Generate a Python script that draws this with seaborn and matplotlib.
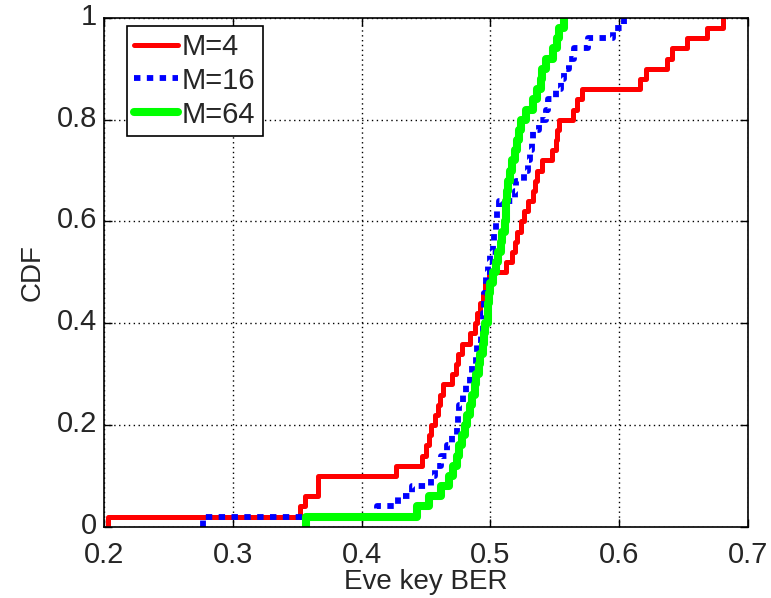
import numpy as np
import pandas as pd
import matplotlib
matplotlib.use("Agg")
import matplotlib.pyplot as plt
import matplotlib.transforms as mtransforms
import seaborn as sns

# Eve's key bit error rate samples for each modulation order
m4_ber = [0.203, 0.352, 0.356, 0.366, 0.366, 0.427, 0.447, 0.450, 0.452, 0.454,
          0.457, 0.459, 0.461, 0.463, 0.470, 0.473, 0.475, 0.478, 0.484, 0.488,
          0.490, 0.492, 0.494, 0.496, 0.499, 0.512, 0.517, 0.519, 0.521, 0.524,
          0.526, 0.529, 0.533, 0.535, 0.536, 0.540, 0.548, 0.551, 0.552, 0.553,
          0.564, 0.567, 0.571, 0.616, 0.621, 0.637, 0.641, 0.653, 0.668, 0.681]
m16_ber = [0.277, 0.412, 0.428, 0.439, 0.454, 0.457, 0.462, 0.466, 0.470, 0.474,
           0.475, 0.476, 0.479, 0.481, 0.484, 0.486, 0.489, 0.490, 0.493, 0.494,
           0.494, 0.495, 0.495, 0.497, 0.497, 0.498, 0.500, 0.502, 0.503, 0.504,
           0.505, 0.507, 0.519, 0.520, 0.526, 0.529, 0.531, 0.532, 0.533, 0.538,
           0.543, 0.545, 0.551, 0.555, 0.557, 0.561, 0.565, 0.576, 0.595, 0.604]
m64_ber = [0.357, 0.443, 0.452, 0.462, 0.468, 0.471, 0.474, 0.476, 0.478, 0.480,
           0.482, 0.484, 0.486, 0.488, 0.489, 0.491, 0.492, 0.494, 0.495, 0.496,
           0.498, 0.498, 0.499, 0.500, 0.502, 0.504, 0.506, 0.508, 0.509, 0.511,
           0.512, 0.512, 0.513, 0.514, 0.515, 0.517, 0.519, 0.521, 0.522, 0.524,
           0.528, 0.533, 0.536, 0.539, 0.540, 0.543, 0.549, 0.552, 0.553, 0.557]

series_labels = ["M=4", "M=16", "M=64"]
x_ticks = [0.2, 0.3, 0.4, 0.5, 0.6, 0.7]
x_tick_labels = ["0.2", "0.3", "0.4", "0.5", "0.6", "0.7"]
y_ticks = [0, 0.2, 0.4, 0.6, 0.8, 1.0]
y_tick_labels = ["0", "0.2", "0.4", "0.6", "0.8", "1"]

sns.set_style("white")
plt.rcParams["font.family"] = ["Liberation Sans", "DejaVu Sans"]

fig = plt.figure(figsize=(7.71, 5.98), dpi=100)
ax = fig.add_axes([0.135, 0.119, 0.835, 0.851])

styles = [
    dict(color="#ff0000", lw=3.6, linestyle="-"),
    dict(color="#0000ff", lw=4.2, linestyle=(0, (1.1, 1.1))),
    dict(color="#00ff00", lw=5.8, linestyle="-"),
]
for data, label, st in zip([m4_ber, m16_ber, m64_ber], series_labels, styles):
    sns.ecdfplot(x=data, ax=ax, label=label, **st)

# start each step curve with a vertical rise at its first sample
for line in ax.get_lines():
    xd = np.asarray(line.get_xdata(), dtype=float).copy()
    yd = np.asarray(line.get_ydata(), dtype=float)
    if np.isinf(xd[0]):
        xd[0] = xd[1]
        line.set_data(xd, yd)

ax.set_xlim(0.2, 0.7)
ax.set_ylim(0, 1)
ax.set_xticks(x_ticks)
ax.set_xticklabels(x_tick_labels)
ax.set_yticks(y_ticks)
ax.set_yticklabels(y_tick_labels)
ax.set_xlabel("Eve key BER", fontsize=20, labelpad=0)
ax.set_ylabel("CDF", fontsize=20, labelpad=8)

ax.tick_params(axis="both", which="major", direction="in", length=6, width=1,
               labelsize=21, top=True, right=True, bottom=True, left=True,
               color="black")
ax.tick_params(axis="x", pad=10.5)
ax.tick_params(axis="y", pad=5)

# y tick labels sit a touch above their ticks
lift = mtransforms.ScaledTranslation(0, 3 / 72, fig.dpi_scale_trans)
for lbl in ax.get_yticklabels():
    lbl.set_transform(lbl.get_transform() + lift)

ax.grid(True, color="black", linestyle=(0, (1, 2.5)), linewidth=1.0)
ax.set_axisbelow(True)
for sp in ax.spines.values():
    sp.set_visible(True)
    sp.set_color("black")
    sp.set_linewidth(1.2)

leg = ax.legend(loc="upper left", bbox_to_anchor=(0.035, 0.985), fontsize=21,
                frameon=True, fancybox=False, framealpha=1, edgecolor="black",
                handlelength=1.5, handletextpad=0.15, labelspacing=0.2,
                borderpad=0.25, borderaxespad=0)
leg.get_frame().set_linewidth(1.2)

fig.savefig("out.png", dpi=100)
